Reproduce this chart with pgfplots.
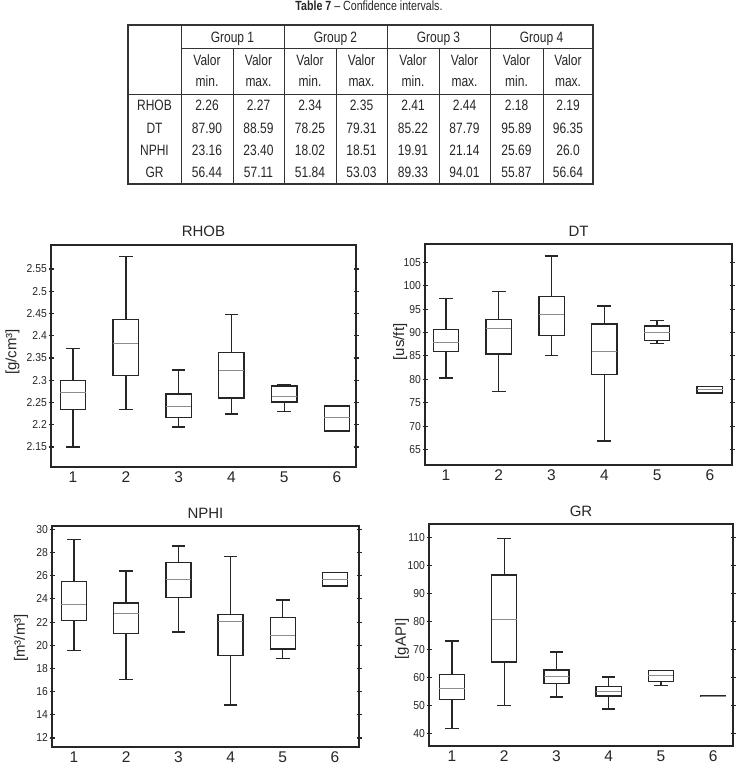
\documentclass[border=0pt]{standalone}
\usepackage{fontspec}
\setmainfont{Liberation Sans}
\newfontfamily\narrowfont[FakeStretch=0.9]{Liberation Sans}
\newfontfamily\tabfont[FakeStretch=0.8]{Liberation Sans}
\usepackage{pgfplots}
\pgfplotsset{compat=1.18}
\usepgfplotslibrary{statistics}

\pgfplotsset{
 bp/.style={
  scale only axis,
  boxplot/draw direction=y,
  boxplot/box extend=0.48,
  boxplot/whisker extend=0.26,
  boxplot/every median/.style={draw=black!45, line width=0.8pt},
  axis line style={line width=1.3pt, black!85},
  tick align=center,
  major tick length=5pt,
  xtick={1,2,3,4,5,6},
  xtick style={draw=none},
  ytick style={line width=1.1pt, black!85},
  yticklabel style={font=\narrowfont\fontsize{11.5}{12}\selectfont, inner sep=1.5pt, text=black!85},
  xticklabel style={font=\fontsize{15.5}{16}\selectfont, inner sep=2pt, text=black!85},
  title style={font=\fontsize{15}{16}\selectfont, anchor=base, yshift=2pt, text=black!85},
  ylabel style={font=\fontsize{15}{16}\selectfont, anchor=center, text=black!85},
  /pgf/number format/assume math mode=true,
 },
 bx/.style={black!85, line width=1.4pt, solid},
}

\begin{document}
\begin{tikzpicture}
\useasboundingbox (0pt,0pt) rectangle (740pt,-765pt);

% ---------------- Table ----------------
\begin{scope}[x=1pt,y=1pt]
\node[anchor=base, font=\tabfont\fontsize{13.3}{14}\selectfont, text=black!85] at (369,-11) {\textbf{Table 7} – Confidence intervals.};
\begin{scope}[black!80, line width=0.8pt]
\draw (181,-48) -- (593,-48);
\draw (128,-94) -- (593,-94);
\foreach \x in {181,284,387,490} \draw (\x,-25) -- (\x,-184);
\foreach \x in {233,336,439,543} \draw (\x,-48) -- (\x,-184);
\draw[line width=1.6pt] (128,-25) rectangle (593,-184);
\end{scope}
\begin{scope}[every node/.style={anchor=base, font=\tabfont\fontsize{15}{16}\selectfont, text=black!85, inner sep=0pt}]
\node at (232.5,-42.4) {Group 1};
\node at (335.5,-42.4) {Group 2};
\node at (438.5,-42.4) {Group 3};
\node at (541.5,-42.4) {Group 4};
\foreach \x in {207,310,413,516.5} {
  \node at (\x,-65.7) {Valor};
  \node at (\x,-87) {min.};
}
\foreach \x in {258.5,361.5,464.5,568} {
  \node at (\x,-65.7) {Valor};
  \node at (\x,-87) {max.};
}
\node at (154.5,-111) {RHOB};
\node at (154.5,-133.3) {DT};
\node at (154.5,-155.7) {NPHI};
\node at (154.5,-177.7) {GR};
\foreach \v [count=\i] in {2.26,2.27,2.34,2.35,2.41,2.44,2.18,2.19} {
  \pgfmathsetmacro{\cx}{{0,207,258.5,310,361.5,413,464.5,516.5,568}[\i]}
  \node at (\cx,-111) {\v};
}
\foreach \v [count=\i] in {87.90,88.59,78.25,79.31,85.22,87.79,95.89,96.35} {
  \pgfmathsetmacro{\cx}{{0,207,258.5,310,361.5,413,464.5,516.5,568}[\i]}
  \node at (\cx,-133.3) {\v};
}
\foreach \v [count=\i] in {23.16,23.40,18.02,18.51,19.91,21.14,25.69,26.0} {
  \pgfmathsetmacro{\cx}{{0,207,258.5,310,361.5,413,464.5,516.5,568}[\i]}
  \node at (\cx,-155.7) {\v};
}
\foreach \v [count=\i] in {56.44,57.11,51.84,53.03,89.33,94.01,55.87,56.64} {
  \pgfmathsetmacro{\cx}{{0,207,258.5,310,361.5,413,464.5,516.5,568}[\i]}
  \node at (\cx,-177.7) {\v};
}
\end{scope}
\end{scope}

% ---------------- RHOB ----------------
\begin{axis}[bp, at={(51pt,-467pt)}, anchor=south west, width=305pt, height=222pt,
  xmin=0.583, xmax=6.36, ymin=2.105, ymax=2.604,
  ytick={2.15,2.2,2.25,2.3,2.35,2.4,2.45,2.5,2.55},
  title={RHOB}, ylabel={[g/cm³]},
  ylabel style={at={(axis description cs:-0.126,0.518)}}]
\addplot[bx, boxplot prepared={draw position=1, lower whisker=2.15, lower quartile=2.234, median=2.272, upper quartile=2.299, upper whisker=2.371}] coordinates {};
\addplot[bx, boxplot prepared={draw position=2, lower whisker=2.234, lower quartile=2.311, median=2.382, upper quartile=2.437, upper whisker=2.578}] coordinates {};
\addplot[bx, boxplot prepared={draw position=3, lower whisker=2.195, lower quartile=2.216, median=2.241, upper quartile=2.269, upper whisker=2.323}] coordinates {};
\addplot[bx, boxplot prepared={draw position=4, lower whisker=2.224, lower quartile=2.260, median=2.323, upper quartile=2.362, upper whisker=2.448}] coordinates {};
\addplot[bx, boxplot prepared={draw position=5, lower whisker=2.230, lower quartile=2.251, median=2.263, upper quartile=2.287, upper whisker=2.290}] coordinates {};
\addplot[bx, boxplot prepared={draw position=6, lower whisker=2.186, lower quartile=2.186, median=2.216, upper quartile=2.242, upper whisker=2.242}] coordinates {};
\end{axis}

% ---------------- DT ----------------
\begin{axis}[bp, at={(425pt,-465pt)}, anchor=south west, width=307pt, height=221pt,
  xmin=0.602, xmax=6.42, ymin=61.7, ymax=108.9,
  ytick={65,70,75,80,85,90,95,100,105},
  title={DT}, ylabel={[us/ft]},
  ylabel style={at={(axis description cs:-0.081,0.557)}}]
\addplot[bx, boxplot prepared={draw position=1, lower whisker=80.3, lower quartile=86.0, median=87.85, upper quartile=90.6, upper whisker=97.3}] coordinates {};
\addplot[bx, boxplot prepared={draw position=2, lower whisker=77.4, lower quartile=85.4, median=90.8, upper quartile=92.8, upper whisker=98.7}] coordinates {};
\addplot[bx, boxplot prepared={draw position=3, lower whisker=85.1, lower quartile=89.4, median=93.8, upper quartile=97.7, upper whisker=106.35}] coordinates {};
\addplot[bx, boxplot prepared={draw position=4, lower whisker=66.85, lower quartile=81.0, median=86.0, upper quartile=91.8, upper whisker=95.7}] coordinates {};
\addplot[bx, boxplot prepared={draw position=5, lower whisker=87.6, lower quartile=88.3, median=90.1, upper quartile=91.4, upper whisker=92.5}] coordinates {};
\addplot[bx, boxplot prepared={draw position=6, lower whisker=77.1, lower quartile=77.1, median=77.8, upper quartile=78.45, upper whisker=78.45}] coordinates {};
\end{axis}

% ---------------- NPHI ----------------
\begin{axis}[bp, at={(52pt,-747pt)}, anchor=south west, width=307pt, height=221pt,
  xmin=0.58, xmax=6.46, ymin=11.22, ymax=30.29,
  ytick={12,14,16,18,20,22,24,26,28,30},
  title={NPHI}, ylabel={[m³/m³]},
  ylabel style={at={(axis description cs:-0.101,0.493)}}]
\addplot[bx, boxplot prepared={draw position=1, lower whisker=19.55, lower quartile=22.13, median=23.54, upper quartile=25.49, upper whisker=29.14}] coordinates {};
\addplot[bx, boxplot prepared={draw position=2, lower whisker=17.02, lower quartile=20.99, median=22.77, upper quartile=23.63, upper whisker=26.41}] coordinates {};
\addplot[bx, boxplot prepared={draw position=3, lower whisker=21.13, lower quartile=24.11, median=25.64, upper quartile=27.13, upper whisker=28.56}] coordinates {};
\addplot[bx, boxplot prepared={draw position=4, lower whisker=14.84, lower quartile=19.12, median=22.02, upper quartile=22.65, upper whisker=27.65}] coordinates {};
\addplot[bx, boxplot prepared={draw position=5, lower whisker=18.86, lower quartile=19.67, median=20.84, upper quartile=22.42, upper whisker=23.91}] coordinates {};
\addplot[bx, boxplot prepared={draw position=6, lower whisker=25.12, lower quartile=25.12, median=25.69, upper quartile=26.27, upper whisker=26.27}] coordinates {};
\end{axis}

% ---------------- GR ----------------
\begin{axis}[bp, at={(429pt,-746pt)}, anchor=south west, width=304pt, height=222pt,
  xmin=0.56, xmax=6.38, ymin=35.5, ymax=114.9,
  ytick={40,50,60,70,80,90,100,110},
  title={GR}, ylabel={[gAPI]},
  ylabel style={at={(axis description cs:-0.089,0.482)}}]
\addplot[bx, boxplot prepared={draw position=1, lower whisker=41.7, lower quartile=52.05, median=56.2, upper quartile=61.1, upper whisker=73.0}] coordinates {};
\addplot[bx, boxplot prepared={draw position=2, lower whisker=49.9, lower quartile=65.6, median=80.9, upper quartile=96.6, upper whisker=109.8}] coordinates {};
\addplot[bx, boxplot prepared={draw position=3, lower whisker=53.0, lower quartile=57.9, median=60.27, upper quartile=62.66, upper whisker=69.1}] coordinates {};
\addplot[bx, boxplot prepared={draw position=4, lower whisker=48.7, lower quartile=53.4, median=55.0, upper quartile=56.8, upper whisker=60.2}] coordinates {};
\addplot[bx, boxplot prepared={draw position=5, lower whisker=57.2, lower quartile=58.6, median=60.6, upper quartile=62.5, upper whisker=62.5}] coordinates {};
\addplot[bx, boxplot prepared={draw position=6, lower whisker=53.1, lower quartile=53.1, median=53.4, upper quartile=53.6, upper whisker=53.6}] coordinates {};
\end{axis}
\end{tikzpicture}
\end{document}
